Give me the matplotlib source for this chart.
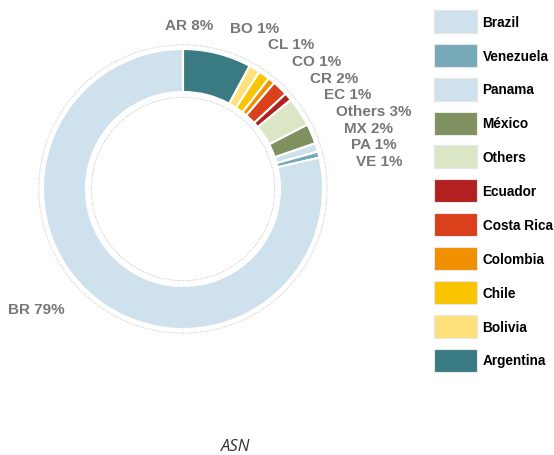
import numpy as np
import matplotlib.pyplot as plt
from matplotlib.patches import Circle, Rectangle

# ----------------------------
# Dados (ordem horária a partir do topo)
# ----------------------------
codes = ["AR", "BO", "CL", "CO", "CR", "EC", "Others", "MX", "PA", "VE", "BR"]
names = ["Argentina", "Bolivia", "Chile", "Colombia", "Costa Rica", "Ecuador",
         "Others", "México", "Panama", "Venezuela", "Brazil"]
shares = [7.9, 1.3, 1.3, 0.8, 1.8, 0.9, 3.4, 2.3, 1.0, 0.7, 78.6]
colors = ["#3a7b83", "#fee17a", "#f9c400", "#f09000", "#d9401b", "#b2211f",
          "#dbe6c6", "#7f915e", "#cfe1ed", "#77aab9", "#cfe1ed"]

W, H = 554, 456
cx, cy, R = 183, 190, 140   # centro e raio em pixels

fig = plt.figure(figsize=(W / 100, H / 100), dpi=100)
ax = fig.add_axes([0, 0, 1, 1])

wedges, _ = ax.pie(shares, colors=colors, startangle=90, counterclock=False,
                   radius=1.0,
                   wedgeprops=dict(width=0.307, edgecolor="white", linewidth=1.5))

# anéis pontilhados
for r in (1.03, 0.655):
    ax.add_patch(Circle((0, 0), r, fill=False, ls=(0, (1, 1.5)),
                        lw=0.7, color="#c0c0c0"))

ax.set_xlim(-cx / R, (W - cx) / R)
ax.set_ylim(-(H - cy) / R, cy / R)
ax.set_aspect("equal", adjustable="box")
ax.axis("off")

# ----------------------------
# Rótulos (distribuídos sem sobreposição)
# ----------------------------
label_kw = dict(fontsize=11, fontweight="bold", color="#777777",
                family="Liberation Sans", va="center")
texts = [f"{c} {v:.0f}%" for c, v in zip(codes, shares)]
mids = [np.deg2rad((w.theta1 + w.theta2) / 2) for w in wedges]

# AR e BR perto da posição natural
ax.text(0.87 * np.cos(mids[0]), 1.21 * np.sin(mids[0]), texts[0],
        ha="right", **label_kw)
ax.text(1.2 * np.cos(mids[-1]) - 0.1, 1.2 * np.sin(mids[-1]) + 0.08, texts[-1],
        ha="right", **label_kw)

# grupo das fatias pequenas: espaçamento uniforme em torno da média
grp = list(range(1, len(codes) - 1))
nat_y = np.array([1.145 * np.sin(mids[i]) for i in grp])
gap = 0.119
ys = nat_y.mean() + gap * ((len(grp) - 1) / 2 - np.arange(len(grp)))
for i, y in zip(grp, ys):
    r_lab = 1.2 + 0.07 * max(0.0, 0.9 - y)
    x = np.sqrt(max(r_lab ** 2 - y ** 2, 0))
    ax.text(x, y, texts[i], ha="left", **label_kw)

# ----------------------------
# Legenda
# ----------------------------
handles = [Rectangle((0, 0), 1, 1, facecolor=c, edgecolor="#e8e8e8", lw=0.8)
           for c in colors]
ax.legend(handles[::-1], names[::-1], loc="upper left",
          bbox_to_anchor=(434 / W, 1 - 11 / H), bbox_transform=fig.transFigure,
          frameon=False, borderpad=0, borderaxespad=0,
          handlelength=3.15, handleheight=2.22, labelspacing=0.8,
          handletextpad=0.42,
          prop=dict(family="Liberation Sans", weight="bold", size=9.8))

fig.text(236 / W, 1 - 447 / H, "ASN", ha="center", va="center",
         fontsize=12, style="italic", family="Open Sans", color="#333333")

fig.savefig("out.png", dpi=100)
